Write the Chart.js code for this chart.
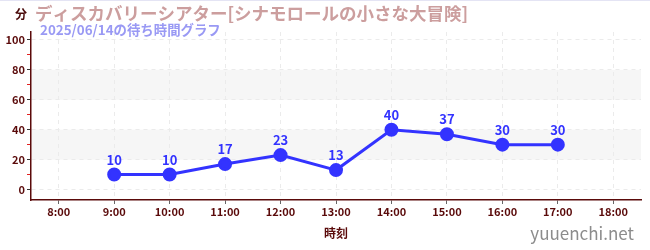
<!DOCTYPE html>
<html><head><meta charset="utf-8">
<script src="https://cdn.jsdelivr.net/npm/chart.js@4/dist/chart.umd.min.js"></script>
<style>html,body{margin:0;padding:0;background:#fff}#wrap{width:650px;height:250px;position:relative}</style>
</head><body><div id="wrap"><canvas id="c"></canvas></div>
<script>
const hours = [9, 10, 11, 12, 13, 14, 15, 16, 17];
const waits = [10, 10, 17, 23, 13, 40, 37, 30, 30];
const yTicks = [0, 10, 20, 30, 40, 50, 60, 70, 80, 90, 100];
const xTicks = [8, 9, 10, 11, 12, 13, 14, 15, 16, 17, 18];
const bands = [[20, 40], [60, 80]];
const titleText = 'ディスカバリーシアター[シナモロールの小さな大冒険]';
const subText = '2025/06/14の待ち時間グラフ';
const unitText = '分';
const xTitle = '時刻';
const mark = 'yuuenchi.net';

const FONT = '"Noto Sans CJK JP", "Noto Sans", sans-serif';
const axisCol = '#5a0a0a';

const deco = {
  id: 'deco',
  beforeDraw(chart) {
    const {ctx, chartArea: a, scales: {y}} = chart;
    ctx.save();
    ctx.fillStyle = '#f6f6f6';
    bands.forEach(([lo, hi]) => {
      const y1 = y.getPixelForValue(hi), y2 = y.getPixelForValue(lo);
      ctx.fillRect(a.left, y1, a.right - a.left, y2 - y1);
    });
    ctx.restore();
  },
  afterDraw(chart) {
    const {ctx, chartArea: a} = chart;
    const ds = chart.getDatasetMeta(0);
    ctx.save();
    ctx.fillStyle = '#e4e4f4';
    ctx.fillRect(0, 0, 650, 1);
    ctx.textBaseline = 'alphabetic';
    ctx.textAlign = 'left';
    ctx.fillStyle = '#4a0a0a';
    ctx.font = 'bold 12px ' + FONT;
    ctx.fillText(unitText, 15, 19);
    ctx.fillStyle = '#cc9e9e';
    ctx.font = 'bold 17.5px ' + FONT;
    ctx.fillText(titleText, 35, 20);
    ctx.fillStyle = '#9999f4';
    ctx.font = 'bold 13.4px ' + FONT;
    ctx.fillText(subText, 40, 35);
    ctx.fillStyle = axisCol;
    ctx.textAlign = 'center';
    ctx.font = 'bold 12px ' + FONT;
    ctx.fillText(xTitle, (a.left + a.right) / 2, 238);
    ctx.fillStyle = '#8c8c8c';
    ctx.textAlign = 'right';
    ctx.font = '17px ' + FONT;
    ctx.fillText(mark, 634, 240);
    ctx.fillStyle = '#3333ff';
    ctx.textAlign = 'center';
    ctx.font = 'bold 13px ' + FONT;
    ds.data.forEach((pt, i) => {
      ctx.fillText(String(waits[i]), pt.x, pt.y - 10);
    });
    ctx.restore();
  }
};

new Chart(document.getElementById('c'), {
  type: 'line',
  data: {
    datasets: [{
      data: hours.map((h, i) => ({x: h, y: waits[i]})),
      borderColor: '#3333ff',
      backgroundColor: '#3333ff',
      borderWidth: 3,
      pointRadius: 5.5,
      pointHoverRadius: 5.5,
      tension: 0
    }]
  },
  options: {
    responsive: true,
    maintainAspectRatio: false,
    animation: false,
    layout: {padding: {left: 0, right: 9, top: 32, bottom: 0}},
    plugins: {legend: {display: false}, tooltip: {enabled: false}},
    scales: {
      x: {
        type: 'linear', min: 7.5, max: 18.5,
        afterBuildTicks(s) { s.ticks = xTicks.map(v => ({value: v})); },
        afterFit(s) { s.height = 50; },
        ticks: {
          color: axisCol, font: {family: FONT, size: 11, weight: 'bold'},
          padding: 1,
          callback: v => v + ':00', maxRotation: 0, autoSkip: false
        },
        grid: {color: '#ebebeb', tickColor: '#666', tickLength: 4, drawTicks: true},
        border: {display: true, color: axisCol, width: 1.5, dash: [4, 4]}
      },
      y: {
        min: -7, max: 105.3,
        afterBuildTicks(s) { s.ticks = yTicks.map(v => ({value: v})); },
        afterFit(s) { s.width = 31; },
        ticks: {
          color: axisCol, font: {family: FONT, size: 11, weight: 'bold'},
          padding: 2,
          callback: v => (v % 20 === 0 ? String(v) : ''), autoSkip: false
        },
        grid: {
          color: c => (c.tick && c.tick.value % 20 === 0 ? '#ebebeb' : 'rgba(0,0,0,0)'),
          tickColor: c => (c.tick && c.tick.value % 20 === 0 ? '#333' : '#e02020'),
          tickLength: 4
        },
        border: {display: true, color: axisCol, width: 1.5, dash: [4, 4]}
      }
    }
  },
  plugins: [deco]
});
</script>
</body></html>
